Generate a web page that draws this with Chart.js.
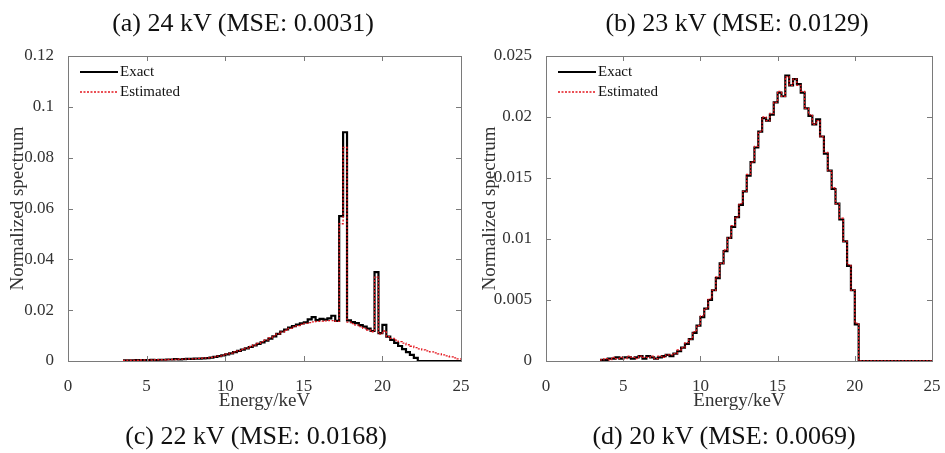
<!DOCTYPE html>
<html>
<head>
<meta charset="utf-8">
<script src="https://cdn.jsdelivr.net/npm/chart.js@4.4.1/dist/chart.umd.min.js"></script>
<style>
  body { margin: 0; background: #fff; }
  #wrap { position: relative; width: 945px; height: 453px; overflow: hidden; }
  canvas { position: absolute; top: 0; }
  .cap { position: absolute; width: 400px; text-align: center; font-family: "Liberation Serif", "Times New Roman", serif; font-size: 26px; color: #111; line-height: 30px; }
</style>
</head>
<body>
<div id="wrap">
  <canvas id="left" width="470" height="453" style="left:0px"></canvas>
  <canvas id="right" width="475" height="453" style="left:470px"></canvas>
  <div class="cap" style="left:43px; top:8px">(a) 24 kV (MSE: 0.0031)</div>
  <div class="cap" style="left:537px; top:8px">(b) 23 kV (MSE: 0.0129)</div>
  <div class="cap" style="left:56px; top:421px">(c) 22 kV (MSE: 0.0168)</div>
  <div class="cap" style="left:524px; top:421px">(d) 20 kV (MSE: 0.0069)</div>
</div>
<script>
// energy bins (keV)
var energies = [3.5,3.75,4,4.25,4.5,4.75,5,5.25,5.5,5.75,6,6.25,6.5,6.75,7,7.25,7.5,7.75,8,8.25,8.5,8.75,
  9,9.25,9.5,9.75,10,10.25,10.5,10.75,11,11.25,11.5,11.75,12,12.25,12.5,12.75,13,13.25,13.5,13.75,
  14,14.25,14.5,14.75,15,15.25,15.5,15.75,16,16.25,16.5,16.75,17,17.25,17.5,17.75,18,18.25,18.5,18.75,
  19,19.25,19.5,19.75,20,20.25,20.5,20.75,21,21.25,21.5,21.75,22,22.25,22.5,22.75,23,23.25,23.5,23.75,
  24,24.25,24.5,24.75,25];

// 24 kV panel
var exactA = [.0003,.0003,.0003,.0004,.0003,.0004,.0004,.0005,.0004,.0005,.0005,.0006,.0006,.0007,.0006,.0007,.0008,.0008,.0009,.0009,.0010,.0011,
  .0013,.0016,.0019,.0022,.0026,.0030,.0035,.0040,.0045,.0050,.0055,.0061,.0067,.0073,.0080,.0088,.0097,.0107,.0116,.0124,
  .0131,.0137,.0143,.0148,.0152,.0164,.0173,.0161,.0166,.0163,.0168,.0178,.0158,.0570,.0900,.0160,.0153,.0149,.0141,.0135,
  .0127,.0118,.0350,.0110,.0142,.0096,.0083,.0071,.0059,.0047,.0035,.0024,.0012,0,0,0,0,0,0,0,
  0,0,0,0,0];
var estA = [.0002,.0003,.0003,.0003,.0004,.0004,.0004,.0004,.0005,.0005,.0005,.0006,.0006,.0006,.0007,.0007,.0008,.0008,.0009,.0010,.0011,.0012,
  .0014,.0016,.0019,.0023,.0027,.0031,.0036,.0041,.0046,.0051,.0057,.0063,.0069,.0076,.0083,.0091,.0099,.0107,.0114,.0121,
  .0128,.0134,.0139,.0144,.0148,.0151,.0154,.0156,.0157,.0158,.0159,.0159,.0156,.0540,.0840,.0153,.0147,.0141,.0135,.0128,
  .0122,.0115,.0330,.0106,.0118,.0096,.0089,.0082,.0076,.0070,.0064,.0058,.0053,.0048,.0044,.0040,.0036,.0032,.0028,.0024,
  .0020,.0016,.0012,.0008,.0005];

// 23 kV panel
var exactB = [.0001,.0001,.0002,.0002,.0003,.0002,.0003,.0003,.0002,.0003,.0004,.0002,.0004,.0003,.0002,.0003,.0004,.0005,.0004,.0006,.0008,.0011,
  .0014,.0018,.0023,.0029,.0036,.0043,.0050,.0058,.0068,.0080,.0090,.0101,.0110,.0118,.0128,.0139,.0152,.0163,.0175,.0188,
  .0199,.0197,.0202,.0212,.0220,.0217,.0234,.0226,.0231,.0227,.0220,.0207,.0201,.0194,.0198,.0184,.0170,.0156,.0141,.0129,
  .0116,.0098,.0078,.0058,.0030,0,0,0,0,0,0,0,0,0,0,0,0,0,0,0,
  0,0,0,0,0];
var estB = [.0001,.0002,.0001,.0003,.0002,.0003,.0002,.0004,.0003,.0002,.0004,.0003,.0003,.0004,.0002,.0004,.0003,.0005,.0005,.0006,.0009,.0011,
  .0015,.0018,.0024,.0029,.0037,.0043,.0051,.0058,.0069,.0080,.0091,.0101,.0111,.0118,.0129,.0139,.0153,.0163,.0176,.0188,
  .0200,.0197,.0203,.0212,.0221,.0217,.0233,.0226,.0231,.0226,.0221,.0207,.0202,.0194,.0197,.0184,.0171,.0156,.0142,.0129,
  .0117,.0098,.0079,.0058,.0031,0,0,0,0,0,0,0,0,0,0,0,0,0,0,0,
  0,0,0,0,0];

var serif = "'Liberation Serif', 'Times New Roman', serif";
var axisColor = '#7a7a7a';
var red = 'rgb(228,22,30)';

function pts(vals) {
  return energies.map(function(e, i) { return {x: e, y: vals[i]}; });
}

// box, inward ticks and legend drawn inside the plot
var boxPlugin = {
  id: 'box',
  afterDraw: function(c) {
    var ctx = c.ctx, a = c.chartArea, xs = c.scales.x, ys = c.scales.y;
    ctx.save();
    ctx.strokeStyle = axisColor;
    ctx.lineWidth = 1;
    ctx.strokeRect(a.left + 0.5, a.top + 0.5, a.right - a.left, a.bottom - a.top);
    ctx.beginPath();
    xs.ticks.forEach(function(t) {
      var px = Math.round(xs.getPixelForValue(t.value)) + 0.5;
      ctx.moveTo(px, a.bottom); ctx.lineTo(px, a.bottom - 5);
      ctx.moveTo(px, a.top); ctx.lineTo(px, a.top + 5);
    });
    ys.ticks.forEach(function(t) {
      var py = Math.round(ys.getPixelForValue(t.value)) + 0.5;
      ctx.moveTo(a.left, py); ctx.lineTo(a.left + 5, py);
      ctx.moveTo(a.right, py); ctx.lineTo(a.right - 5, py);
    });
    ctx.stroke();

    // legend
    var lx = a.left + 12, ly = a.top + 16;
    ctx.font = '15px ' + serif;
    ctx.fillStyle = '#111';
    ctx.textBaseline = 'middle';
    ctx.strokeStyle = '#000';
    ctx.lineWidth = 2;
    ctx.setLineDash([]);
    ctx.beginPath(); ctx.moveTo(lx, ly); ctx.lineTo(lx + 38, ly); ctx.stroke();
    ctx.fillText('Exact', lx + 40, ly);
    ctx.strokeStyle = red;
    ctx.lineWidth = 1.3;
    ctx.setLineDash([2, 1.5]);
    ctx.beginPath(); ctx.moveTo(lx, ly + 20); ctx.lineTo(lx + 38, ly + 20); ctx.stroke();
    ctx.fillText('Estimated', lx + 40, ly + 20);
    ctx.restore();
  }
};

function makeChart(id, exact, est, yMax, yStep, yWidth, padRight, yTitlePad) {
  return new Chart(document.getElementById(id), {
    type: 'line',
    data: {
      datasets: [
        { label: 'Estimated', data: pts(est), borderColor: red, borderWidth: 1.3, borderDash: [2, 1.5],
          stepped: true, pointRadius: 0, fill: false, order: 0 },
        { label: 'Exact', data: pts(exact), borderColor: '#000', borderWidth: 2.2,
          stepped: true, pointRadius: 0, fill: false, order: 1 }
      ]
    },
    options: {
      responsive: false,
      animation: false,
      layout: { padding: { top: 56, right: padRight, bottom: 0, left: 0 } },
      plugins: { legend: { display: false }, tooltip: { enabled: false } },
      scales: {
        x: {
          type: 'linear', min: 0, max: 25,
          ticks: { stepSize: 5, padding: 7, color: '#333', font: { family: serif, size: 17 } },
          grid: { display: false },
          border: { display: false },
          title: { display: true, text: 'Energy/keV', color: '#333', font: { family: serif, size: 19 },
                   padding: { top: 4, bottom: 41 } },
          afterFit: function(s) { s.height = 92; s.paddingLeft = 0; s.paddingRight = 0; }
        },
        y: {
          min: 0, max: yMax,
          ticks: { stepSize: yStep, padding: 6, color: '#333', font: { family: serif, size: 17 },
                   callback: function(v) { return String(parseFloat(v.toFixed(4))); } },
          grid: { display: false },
          border: { display: false },
          title: { display: true, text: 'Normalized spectrum', color: '#333', font: { family: serif, size: 19 },
                   padding: { top: yTitlePad, bottom: 0 } },
          afterFit: function(s) { s.width = yWidth; s.paddingTop = 0; s.paddingBottom = 0; }
        }
      }
    },
    plugins: [boxPlugin]
  });
}

makeChart('left', exactA, estA, 0.12, 0.02, 68, 9, 7);
makeChart('right', exactB, estB, 0.025, 0.005, 76, 13, 9);
</script>
</body>
</html>
